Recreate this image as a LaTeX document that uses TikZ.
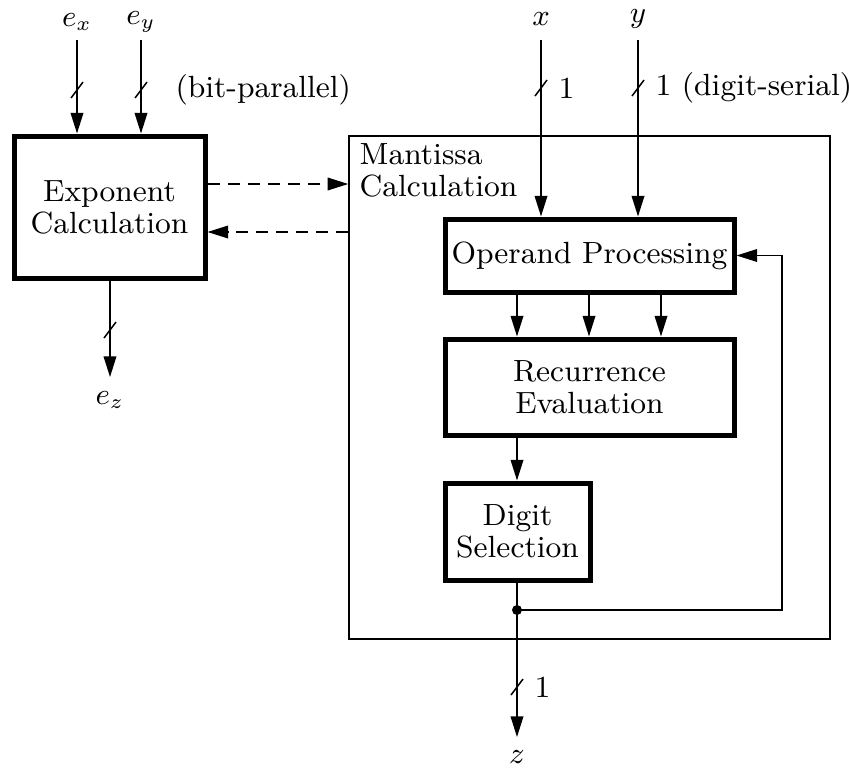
\documentclass[tikz,border=0pt]{standalone}
\usetikzlibrary{arrows.meta}
\begin{document}
\begin{tikzpicture}[x=0.3pt,y=-0.3pt,
  font=\fontsize{9.2}{9.6}\selectfont,
  thin line/.style={line width=0.45pt},
  arr/.style={thin line,-{Triangle[length=6.2pt,width=3.8pt]}},
  blk/.style={draw,line width=1.5pt,rectangle,align=center,inner sep=0pt},
  lbl/.style={inner sep=0pt},
  dsh/.style={dash pattern=on 3.6pt off 2.4pt},
  busmark/.pic={\draw[thin line] (-6,8) -- (6,-8);}
]
\useasboundingbox (0,0) rectangle (849,769);

% blocks
\node[blk,minimum width=57.3pt,minimum height=42.6pt] (exp) at (109.5,207) {Exponent\\Calculation};
\node[draw,thin line,minimum width=144.3pt,minimum height=150.9pt,inner sep=0pt] (mant) at (589.5,387.5) {};
\node[lbl,anchor=north west,align=left] (mlab) at (359,143) {Mantissa\\Calculation};
\node[blk,minimum width=86.7pt,minimum height=21.9pt] (op) at (589.5,255.5) {Operand Processing};
\node[blk,minimum width=86.7pt,minimum height=28.8pt] (rec) at (589.5,387) {Recurrence\\Evaluation};
\node[blk,minimum width=43.5pt,minimum height=29.1pt] (dig) at (517.5,531.5) {Digit\\Selection};

% inputs of exponent
\node[lbl] (exl) at (77,22) {$e_x$};
\node[lbl] (eyl) at (141,22) {$e_y$};
\coordinate (ex) at (77,40);
\coordinate (ey) at (141,40);
\draw[arr] (ex) -- (ex |- exp.north);
\draw[arr] (ey) -- (ey |- exp.north);
\pic at (77,90) {busmark};
\pic at (141,90) {busmark};
\node[lbl,anchor=west] (bp) at (175,90) {(bit-parallel)};

% exponent output
\coordinate (ezend) at (110,377);
\draw[arr] (exp.south -| ezend) -- (ezend);
\pic at (110,330) {busmark};
\node[lbl] (ezl) at (110,400) {$e_z$};

% dashed links
\coordinate (d1) at (0,184);
\coordinate (d2) at (0,232);
\draw[arr,dsh] (exp.east |- d1) -- (mant.west |- d1);
\draw[arr,dsh] (mant.west |- d2) -- (exp.east |- d2);

% mantissa inputs
\node[lbl] (xl) at (541,19) {$x$};
\node[lbl] (yl) at (638,19) {$y$};
\coordinate (xin) at (541,40);
\coordinate (yin) at (638,40);
\draw[arr] (xin) -- (xin |- op.north);
\draw[arr] (yin) -- (yin |- op.north);
\pic at (541,88) {busmark};
\pic at (638,88) {busmark};
\node[lbl,anchor=west] (x1) at (558,88) {1};
\node[lbl,anchor=west] (y1) at (655,88) {1 (digit-serial)};

% operand -> recurrence
\coordinate (a1) at (517,0);
\coordinate (a2) at (589,0);
\coordinate (a3) at (661,0);
\draw[arr] (op.south -| a1) -- (rec.north -| a1);
\draw[arr] (op.south -| a2) -- (rec.north -| a2);
\draw[arr] (op.south -| a3) -- (rec.north -| a3);

% recurrence -> digit
\draw[arr] (rec.south -| a1) -- (dig.north -| a1);

% output and feedback
\coordinate (dot) at (517,610);
\coordinate (fbx) at (782,610);
\coordinate (zend) at (517,737);
\draw[thin line] (dig.south -| dot) -- (dot);
\draw[arr] (dot) -- (zend);
\draw[arr] (dot) -- (fbx) |- (op.east);
\fill (dot) circle (1.5pt);
\pic at (517,687) {busmark};
\node[lbl,anchor=west] (z1) at (534,687) {1};
\node[lbl] (zl) at (517,757) {$z$};
\end{tikzpicture}
\end{document}
